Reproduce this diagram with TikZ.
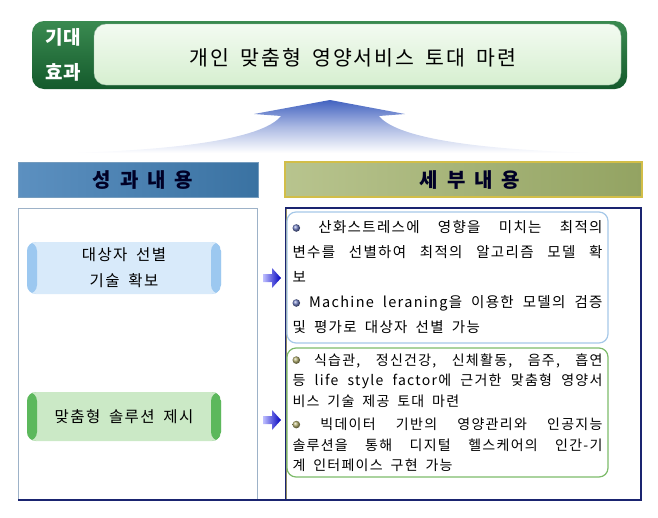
\documentclass[tikz,border=0pt]{standalone}
\usepackage{fontspec}
\setmainfont{Noto Sans CJK KR}
\newfontfamily\krwide{Noto Sans CJK KR}[LetterSpace=9, WordSpace=1.8]
\usetikzlibrary{calc}
\definecolor{goaltop}{HTML}{3A8A50}
\definecolor{goalbot}{HTML}{145A2C}
\definecolor{goalmint}{HTML}{D6EFD0}
\definecolor{arrowblue}{HTML}{4262C0}
\definecolor{hdblueL}{HTML}{5C90C0}
\definecolor{hdblueM}{HTML}{D2E3F1}
\definecolor{hdblueR}{HTML}{3A72A2}
\definecolor{hdoliveL}{HTML}{B8C48E}
\definecolor{hdoliveM}{HTML}{EAEED6}
\definecolor{hdoliveR}{HTML}{93A362}
\definecolor{hdolivebd}{HTML}{D2BE48}
\definecolor{frameblue}{HTML}{9DB2C8}
\definecolor{framenavy}{HTML}{1A2470}
\definecolor{capblue}{HTML}{9CC8F0}
\definecolor{midblue}{HTML}{D8EAFA}
\definecolor{capgreen}{HTML}{5CB85C}
\definecolor{midgreen}{HTML}{CBE9C6}
\definecolor{rimblue}{HTML}{A6C8E8}
\definecolor{rimgreen}{HTML}{7DBB6A}
\definecolor{dotblue}{HTML}{6E7CC0}
\definecolor{dotolive}{HTML}{B4B070}
\newcommand\dotA{\tikz[x=1pt,y=1pt,baseline=-5pt]\shade[ball color=dotblue] (0,0) circle (3.8pt);}
\newcommand\dotB{\tikz[x=1pt,y=1pt,baseline=-5pt]\shade[ball color=dotolive] (0,0) circle (3.8pt);}
\tikzset{
  item/.style={rounded corners=9pt, minimum width=194pt, align=center,
    font=\krwide\fontsize{15.5}{26}\selectfont,
    path picture={
      \fill[#1] (path picture bounding box.north west) rectangle ([xshift=10pt]path picture bounding box.south west);
      \fill[#1] (path picture bounding box.north east) rectangle ([xshift=-10pt]path picture bounding box.south east);}},
  detail/.style={rounded corners=9pt, line width=1.2pt, minimum width=321pt,
    text width=310pt, inner xsep=5.5pt, align=justify},
  headtext/.style={font=\bfseries\fontsize{20}{24}\selectfont, text=black!85!blue},
}
\begin{document}
\begin{tikzpicture}[x=1pt,y=-1pt]
  \useasboundingbox (0,0) rectangle (658,517);
  % goal banner
  \shade[top color=goaltop, bottom color=goalbot, rounded corners=12pt]
    (32,21) rectangle (627,89);
  \shade[top color=white!70!goalmint, bottom color=goalmint, rounded corners=12pt,
    draw=goalbot!40] (94,24) rectangle (621,85);
  \node[text=white, font=\bfseries\fontsize{19}{35}\selectfont, align=center]
    (Tag) at (63,55) {기대\\효과};
  \node[font=\krwide\fontsize{20.5}{26}\selectfont] (Goal) at (353,58) {개인 맞춤형 영양서비스 토대 마련};
  % up arrow
  \shade[top color=arrowblue, bottom color=white, middle color=arrowblue!45]
    (330,100) -- (254,114) -- (281,116)
    .. controls (262,140) and (170,150) .. (71,153) -- (596,153)
    .. controls (490,150) and (398,140) .. (379,116) -- (405,114) -- cycle;
  % headers
  \shade[left color=hdblueL, middle color=hdblueM, right color=hdblueR]
    (18,162) rectangle (258,197);
  \draw[hdblueR!70] (18,162) rectangle (258,197);
  \node[headtext] (HdL) at (143,180) {성\hspace{0.45em}과\hspace{0.45em}내\hspace{0.45em}용};
  \shade[left color=hdoliveL, middle color=hdoliveM, right color=hdoliveR]
    (285,162) rectangle (642,197);
  \draw[hdolivebd, line width=1.2pt] (285,162) rectangle (642,197);
  \node[headtext] (HdR) at (470,180) {세\hspace{0.45em}부\hspace{0.45em}내\hspace{0.45em}용};
  % frames
  \draw[frameblue, line width=1pt] (18,208) rectangle (257,500);
  \draw[framenavy, line width=1.2pt] (286,208) rectangle (641,500);
  \draw[gray!70!olive] (286,209) -- (286,499);
  \draw[framenavy, line width=2pt] (18,500) -- (641,500);
  % results
  \node[item=capblue, fill=midblue, minimum height=52pt] (Sel) at (124,268) {대상자 선별\\기술 확보};
  \node[item=capgreen, fill=midgreen, minimum height=49pt] (Sol) at (124,416.5) {맞춤형 솔루션 제시};
  \foreach \y in {278,420}
    \shade[left color=blue!25, right color=blue!75!black]
      (263,\y-4) -- (272,\y-4) -- (272,\y-10) -- (281,\y)
      -- (272,\y+10) -- (272,\y+4) -- (263,\y+4) -- cycle;
  % details
  \node[detail, draw=rimblue, minimum height=131pt, font=\krwide\fontsize{14.5}{25}\selectfont]
    (DtA) at (447.5,277.5) {\dotA\ 산화스트레스에 영향을 미치는 최적의\linebreak
    변수를 선별하여 최적의 알고리즘 모델 확\linebreak 보\\
    \dotA\ Machine leraning을 이용한 모델의 검증\linebreak 및 평가로 대상자 선별 가능};
  \node[detail, draw=rimgreen, minimum height=129pt, font=\krwide\fontsize{14}{20.5}\selectfont]
    (DtB) at (447.5,412.5) {\dotB\ 식습관, 정신건강, 신체활동, 음주, 흡연\linebreak
    등 life style factor에 근거한 맞춤형 영양서\linebreak 비스 기술 제공 토대 마련\\[3pt]
    \dotB\ 빅데이터 기반의 영양관리와 인공지능\linebreak
    솔루션을 통해 디지털 헬스케어의 인간-기\linebreak 계 인터페이스 구현 가능};
\end{tikzpicture}
\end{document}
